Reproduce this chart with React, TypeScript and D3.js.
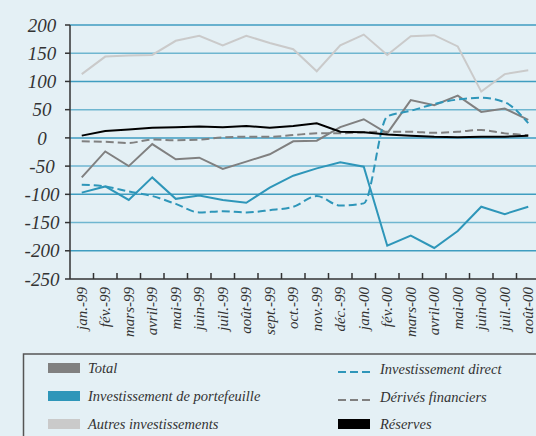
import * as d3 from 'd3';
import React from 'react';

const months = ['jan.-99', 'fév.-99', 'mars-99', 'avril-99', 'mai-99', 'juin-99', 'juil.-99', 'août-99', 'sept.-99', 'oct.-99', 'nov.-99', 'déc.-99', 'jan.-00', 'fév.-00', 'mars-00', 'avril-00', 'mai-00', 'juin-00', 'juil.-00', 'août-00'];

const total = [-70, -24, -50, -11, -38, -35, -55, -42, -29, -6, -5, 19, 33, 8, 67, 58, 75, 46, 52, 32];
const portefeuille = [-97, -86, -110, -70, -108, -102, -110, -115, -88, -67, -54, -43, -51, -191, -173, -195, -165, -122, -135, -122];
const autres = [113, 144, 146, 147, 172, 181, 164, 181, 168, 157, 118, 164, 183, 147, 180, 182, 162, 82, 113, 120];
const direct = [-83, -86, -95, -103, -117, -132, -130, -132, -128, -122, -103, -120, -116, 38, 48, 60, 68, 71, 63, 26];
const derives = [-6, -7, -9, -3, -4, -3, 1, 2, 2, 5, 8, 8, 10, 11, 11, 9, 11, 14, 8, 5];
const reserves = [4, 12, 15, 18, 19, 20, 19, 21, 18, 21, 26, 11, 10, 6, 4, 2, 1, 2, 2, 4];

const yTicks = [200, 150, 100, 50, 0, -50, -100, -150, -200, -250];

const W = 536, H = 436;
const left = 70, top = 25, bottom = 279;
const bg = '#e4f0f5';
const blue = '#2e96b9';
const font = '"Liberation Serif", "DejaVu Serif", serif';

const x = d3.scaleBand<string>().domain(months).range([left, left + 23.5 * months.length]);
const y = d3.scaleLinear().domain([-250, 200]).range([bottom, top]);
const cx = (i: number) => (x(months[i]) as number) + x.bandwidth() / 2;

const straight = d3.line<number>().x((_, i) => cx(i)).y(d => y(d));
const smooth = d3.line<number>().x((_, i) => cx(i)).y(d => y(d)).curve(d3.curveMonotoneX);

const series = [
  { name: 'Autres investissements', data: autres, color: '#cacaca', dash: null, gen: straight },
  { name: 'Total', data: total, color: '#808080', dash: null, gen: straight },
  { name: 'Investissement de portefeuille', data: portefeuille, color: blue, dash: null, gen: straight },
  { name: 'Dérivés financiers', data: derives, color: '#808080', dash: '8,4', gen: smooth },
  { name: 'Investissement direct', data: direct, color: blue, dash: '8,4', gen: smooth },
  { name: 'Réserves', data: reserves, color: '#000', dash: null, gen: straight },
];

export default function App() {
  return (
    <svg width={W} height={H} style={{ position: 'absolute', left: 0, top: 0, fontFamily: font, fontStyle: 'italic' }}>
      <rect x={0} y={0} width={W} height={H} fill={bg} />
      {/* grid */}
      {yTicks.filter(t => t !== -250).map(t => (
        <line key={t} x1={left} x2={W} y1={y(t)} y2={y(t)} stroke={t % 100 === 0 ? '#3f9dc0' : '#6fb6d0'} strokeWidth={1.5} />
      ))}
      {/* y labels */}
      {yTicks.map(t => (
        <g key={'yl' + t}>
          <line x1={left - 5} x2={left} y1={y(t)} y2={y(t)} stroke="#333" strokeWidth={1.5} />
          <text x={42} y={y(t)} dy="0.35em" textAnchor="middle" fontSize={19} fill="#333">{t}</text>
        </g>
      ))}
      {/* x ticks */}
      {months.map((m, i) => (
        <g key={m}>
          {i > 0 && <line x1={x(m)} x2={x(m)} y1={bottom - 6} y2={bottom} stroke="#333" strokeWidth={1.5} />}
          <text transform={`translate(${cx(i)},${bottom + 8}) rotate(-90)`} dy="0.32em" textAnchor="end" fontSize={15} fill="#333">{m}</text>
        </g>
      ))}
      {/* series */}
      {series.map(s => (
        <path key={s.name} d={s.gen(s.data) || ''} fill="none" stroke={s.color} strokeWidth={2} strokeDasharray={s.dash || undefined} />
      ))}
      {/* axes */}
      <line x1={left} x2={left} y1={top} y2={bottom} stroke="#333" strokeWidth={1.5} />
      <line x1={left} x2={W} y1={bottom} y2={bottom} stroke="#333" strokeWidth={1.5} />
      {/* legend */}
      <rect x={23.5} y={354} width={W} height={100} fill="none" stroke="#555" strokeWidth={1.5} />
      {[
        { label: 'Total', color: '#808080', row: 0 },
        { label: 'Investissement de portefeuille', color: blue, row: 1 },
        { label: 'Autres investissements', color: '#cacaca', row: 2 },
      ].map(l => (
        <g key={l.label}>
          <rect x={48} y={363 + 28 * l.row} width={32} height={10} fill={l.color} />
          <text x={88} y={373 + 28 * l.row} fontSize={14.5} fill="#333">{l.label}</text>
        </g>
      ))}
      {[
        { label: 'Investissement direct', color: blue, row: 0 },
        { label: 'Dérivés financiers', color: '#808080', row: 1 },
      ].map(l => (
        <g key={l.label}>
          <line x1={338} x2={370} y1={372 + 28 * l.row} y2={372 + 28 * l.row} stroke={l.color} strokeWidth={2} strokeDasharray="8,4" />
          <text x={380} y={374 + 28 * l.row} fontSize={14.5} fill="#333">{l.label}</text>
        </g>
      ))}
      <rect x={338} y={419} width={32} height={10} fill="#000" />
      <text x={380} y={429} fontSize={14.5} fill="#333">Réserves</text>
    </svg>
  );
}
